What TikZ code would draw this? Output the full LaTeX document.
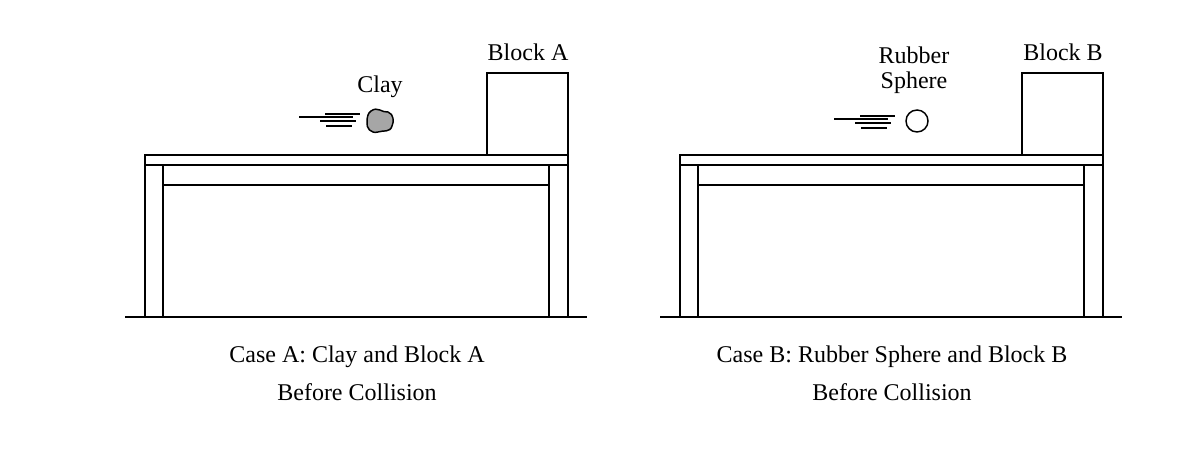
\documentclass[tikz,border=0pt]{standalone}
\usepackage{fontspec}
\setmainfont{Liberation Serif}
\begin{document}
\begin{tikzpicture}[x=0.75pt,y=-0.75pt,line width=1.1pt,
  lbl/.style={font=\fontsize{18}{21}\selectfont,inner sep=0pt,align=center},
  streak/.style={line width=1pt}]
  \useasboundingbox (0,0) rectangle (1198,452);
  % two tables with blocks
  \foreach \ox in {0,535} {
    \begin{scope}[xshift=\ox*0.75pt]
      \draw (125,317) -- (587,317);
      \draw (145,155) rectangle (568,165);
      \draw (145,165) -- (145,317) (163,165) -- (163,317);
      \draw (549,165) -- (549,317) (568,165) -- (568,317);
      \draw (163,185) -- (549,185);
      \draw (487,155) rectangle (568,73);
    \end{scope}
  }
  % case A
  \node[lbl] (blockA) at (528,52) {Block A};
  \node[lbl] (clay) at (380,87) {Clay};
  \draw[fill=gray!70] (371,111) .. controls (378,106) and (382,113) .. (388,112)
    .. controls (394,114) and (394,122) .. (392,126)
    .. controls (390,133) and (383,130) .. (378,132)
    .. controls (371,134) and (366,128) .. (367,122)
    .. controls (367,117) and (368,113) .. (371,111) -- cycle;
  \draw[streak] (299,117) -- (353,117) (325,114) -- (360,114) (326,126) -- (352,126) (320,121) -- (356,121);
  \node[lbl] (capA) at (357,357) {Case A: Clay and Block A};
  \node[lbl] (capA2) at (357,392) {Before Collision};
  % case B
  \node[lbl] (blockB) at (1063,52) {Block B};
  \node[lbl] (rubber) at (914,70) {Rubber\\[-2pt]Sphere};
  \draw (917,121) circle (11);
  \draw[streak] (834,119) -- (888,119) (860,116) -- (895,116) (861,128) -- (887,128) (855,123) -- (891,123);
  \node[lbl] (capB) at (892,357) {Case B: Rubber Sphere and Block B};
  \node[lbl] (capB2) at (892,392) {Before Collision};
\end{tikzpicture}
\end{document}
